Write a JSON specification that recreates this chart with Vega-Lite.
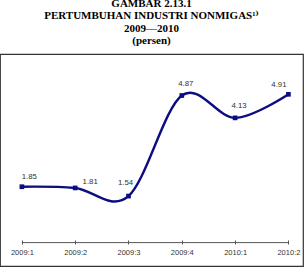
{
  "$schema": "https://vega.github.io/schema/vega-lite/v6.json",
  "autosize": {"type": "none"},
  "padding": {"left": 0, "top": 54, "right": 2, "bottom": 1},
  "width": 303,
  "height": 212,
  "background": "white",
  "config": {
    "view": {"stroke": "#333333", "strokeWidth": 1.2},
    "font": "Liberation Sans"
  },
  "title": {
    "text": ["GAMBAR 2.13.1", "PERTUMBUHAN INDUSTRI NONMIGAS¹⁾", "2009—2010", "(persen)"],
    "font": "Liberation Serif, DejaVu Serif",
    "fontSize": 11,
    "fontWeight": "bold",
    "lineHeight": 12.3,
    "color": "#000000",
    "anchor": "middle",
    "offset": 8
  },
  "data": {
    "values": [
      {"period": "2009:1", "value": 1.85},
      {"period": "2009:2", "value": 1.81},
      {"period": "2009:3", "value": 1.54},
      {"period": "2009:4", "value": 4.87},
      {"period": "2010:1", "value": 4.13},
      {"period": "2010:2", "value": 4.91}
    ]
  },
  "encoding": {
    "x": {
      "field": "period",
      "type": "ordinal",
      "sort": null,
      "scale": {"type": "point", "domain": ["2009:1", "2009:2", "2009:3", "2009:4", "2010:1", "2010:2"], "padding": 0.342, "align": 0.6},
      "axis": {
        "title": null,
        "domain": false,
        "grid": false,
        "offset": -26,
        "tickSize": 4,
        "tickColor": "#555555",
        "tickWidth": 1,
        "labelAngle": 0,
        "labelFont": "Liberation Sans",
        "labelFontSize": 7.5,
        "labelColor": "#333333",
        "labelPadding": 4
      }
    },
    "y": {
      "field": "value",
      "type": "quantitative",
      "scale": {"domain": [-0.775, 6.245], "nice": false, "zero": false},
      "axis": null
    }
  },
  "layer": [
    {
      "data": {"values": [{"a": "2009:1", "b": "2010:2", "v": 0}]},
      "mark": {"type": "rule", "color": "#555555", "strokeWidth": 1},
      "encoding": {
        "x": {"field": "a", "type": "ordinal", "sort": null},
        "x2": {"field": "b"},
        "y": {"field": "v", "type": "quantitative"}
      }
    },
    {
      "mark": {"type": "line", "interpolate": "cardinal", "tension": 0, "color": "#0d0d80", "strokeWidth": 2.4}
    },
    {
      "mark": {"type": "point", "shape": "square", "filled": true, "size": 22, "color": "#0d0d80", "opacity": 1}
    },
    {
      "transform": [{"filter": "datum.period === '2009:1'"}],
      "mark": {"type": "text", "dx": 7.5, "dy": -9.5, "fontSize": 7.8, "color": "#333333", "baseline": "middle", "align": "center"},
      "encoding": {"text": {"field": "value", "type": "quantitative", "format": ".2f"}}
    },
    {
      "transform": [{"filter": "datum.period === '2009:2'"}],
      "mark": {"type": "text", "dx": 15, "dy": -5.5, "fontSize": 7.8, "color": "#333333", "baseline": "middle", "align": "center"},
      "encoding": {"text": {"field": "value", "type": "quantitative", "format": ".2f"}}
    },
    {
      "transform": [{"filter": "datum.period === '2009:3'"}],
      "mark": {"type": "text", "dx": -3, "dy": -13, "fontSize": 7.8, "color": "#333333", "baseline": "middle", "align": "center"},
      "encoding": {"text": {"field": "value", "type": "quantitative", "format": ".2f"}}
    },
    {
      "transform": [{"filter": "datum.period === '2009:4' || datum.period === '2010:1'"}],
      "mark": {"type": "text", "dx": 4, "dy": -12, "fontSize": 7.8, "color": "#333333", "baseline": "middle", "align": "center"},
      "encoding": {"text": {"field": "value", "type": "quantitative", "format": ".2f"}}
    },
    {
      "transform": [{"filter": "datum.period === '2010:2'"}],
      "mark": {"type": "text", "dx": -9.5, "dy": -9, "fontSize": 7.8, "color": "#333333", "baseline": "middle", "align": "center"},
      "encoding": {"text": {"field": "value", "type": "quantitative", "format": ".2f"}}
    }
  ]
}
